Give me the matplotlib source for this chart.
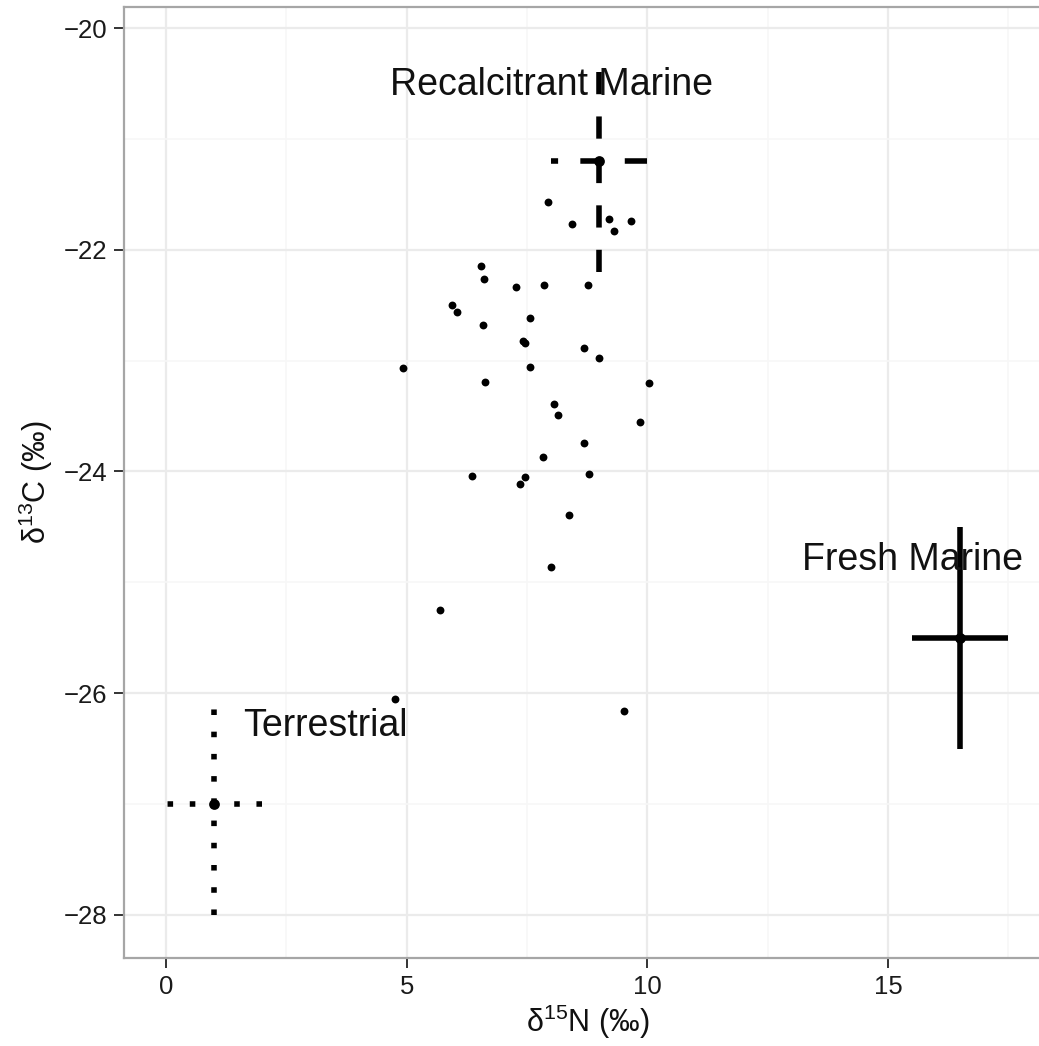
import matplotlib
matplotlib.use("Agg")
import matplotlib.pyplot as plt
from matplotlib.ticker import MultipleLocator

plt.rcParams["font.family"] = ["Liberation Sans", "DejaVu Sans"]
plt.rcParams["mathtext.fontset"] = "custom"
plt.rcParams["mathtext.rm"] = "Liberation Sans"
plt.rcParams["mathtext.it"] = "Liberation Sans:italic"
plt.rcParams["mathtext.bf"] = "Liberation Sans:bold"

# Individual samples
d15n = [7.93, 8.44, 9.20, 9.65, 9.30, 6.55, 6.60, 7.27, 7.86, 8.76,
        5.93, 6.05, 6.58, 7.55, 7.41, 7.45, 8.69, 9.00, 4.92, 7.55,
        6.62, 10.04, 8.06, 8.14, 9.85, 8.68, 7.84, 6.35, 8.79, 7.45,
        7.35, 8.38, 7.99, 5.68, 4.76, 9.52]
d13c = [-21.565, -21.766, -21.72, -21.74, -21.83, -22.15, -22.26, -22.34,
        -22.32, -22.32, -22.50, -22.56, -22.68, -22.62, -22.82, -22.84,
        -22.89, -22.98, -23.07, -23.06, -23.19, -23.20, -23.39, -23.49,
        -23.55, -23.74, -23.87, -24.04, -24.02, -24.05, -24.11, -24.39,
        -24.86, -25.25, -26.05, -26.16]

# End-member sources: mean and spread
sources = ["Recalcitrant Marine", "Fresh Marine", "Terrestrial"]
src_n = [9.0, 16.5, 1.0]
src_c = [-21.2, -25.5, -27.0]
src_n_err = [1.0, 1.0, 1.0]
src_c_err = [1.0, 1.0, 1.0]
src_style = [(0, (4, 4)), "solid", (0, (1, 3))]

# Label anchors for the sources
label_x = [8.0, 15.5, 3.3]
label_y = [-20.60, -24.89, -26.39]

x_ticks = [0, 5, 10, 15]
y_ticks = [-20, -22, -24, -26, -28]

fig = plt.figure(figsize=(10.39, 10.46), dpi=100)
ax = fig.add_axes([124 / 1039, 1 - 958 / 1046, 926.6 / 1039, 951 / 1046])
ax.set_facecolor("white")

ax.set_xlim(-0.875, 18.375)
ax.set_ylim(-28.39, -19.81)
ax.set_xticks(x_ticks)
ax.set_yticks(y_ticks)
ax.set_xticklabels([str(t) for t in x_ticks])
ax.set_yticklabels([("\u2212" + str(abs(t))) if t < 0 else str(t) for t in y_ticks])
ax.xaxis.set_minor_locator(MultipleLocator(2.5))
ax.yaxis.set_minor_locator(MultipleLocator(1))

ax.grid(which="major", color="#ebebeb", lw=1.6, zorder=0)
ax.grid(which="minor", color="#f7f7f7", lw=1.2, zorder=0)
ax.set_axisbelow(True)

for sp in ax.spines.values():
    sp.set_color("#a6a6a6")
    sp.set_linewidth(1.6)

ax.tick_params(which="major", length=7, width=1.4, color="#333333",
               labelsize=18.5, labelcolor="#1a1a1a", pad=5)
ax.tick_params(which="minor", length=0)

ax.scatter(d15n, d13c, s=32, color="black", linewidths=0, zorder=3)

for n, c, en, ec, ls in zip(src_n, src_c, src_n_err, src_c_err, src_style):
    ax.plot([n + en, n - en], [c, c], color="black", lw=4.0, ls=ls,
            dash_capstyle="butt", solid_capstyle="butt", zorder=4)
    ax.plot([n, n], [c - ec, c + ec], color="black", lw=4.0, ls=ls,
            dash_capstyle="butt", solid_capstyle="butt", zorder=4)
    ax.scatter([n], [c], s=60, color="black", linewidths=0, zorder=5)

for name, lx, ly in zip(sources, label_x, label_y):
    ax.text(lx, ly, name, ha="center", va="baseline", fontsize=27,
            color="#111111", zorder=6)

ax.set_xlabel("\u03b4$^{15}$N (\u2030)", fontsize=22, color="#111111", labelpad=3)
ax.set_ylabel("\u03b4$^{13}$C (\u2030)", fontsize=22, color="#111111", labelpad=6)

fig.savefig("out.png", dpi=100)
